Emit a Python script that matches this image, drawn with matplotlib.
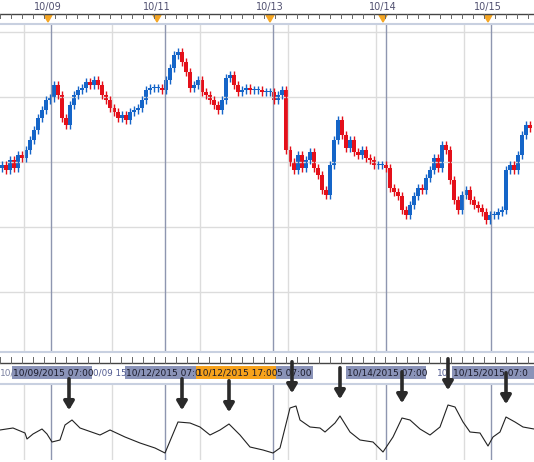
import matplotlib
matplotlib.use("Agg")
import matplotlib.pyplot as plt
from matplotlib.patches import Rectangle, Polygon

# candle closes (screen-height units), one candle per 4px slot
close_y = [165,170,160,168,155,158,150,140,130,118,110,100,98,85,95,118,125,105,95,90,88,82,85,80,85,95,100,108,112,118,115,120,112,110,108,100,90,88,88,88,90,80,68,55,52,62,72,88,85,80,92,95,100,105,110,100,78,75,85,92,90,88,90,90,90,92,92,92,100,95,90,150,162,170,155,168,160,152,168,175,190,195,165,140,120,135,148,140,152,155,150,158,160,165,165,165,168,188,192,196,210,215,205,196,188,190,178,170,158,168,145,150,180,200,210,195,190,200,205,208,212,220,215,215,212,210,170,165,170,155,135,125,128]
prices = [400 - v for v in close_y]

osc_x = [0,13,25,27,33,42,47,52,60,65,72,80,100,110,125,140,155,165,178,190,200,210,220,229,240,250,263,273,280,290,296,300,310,320,325,335,340,350,360,373,383,393,402,410,420,430,440,448,455,463,470,480,488,493,500,506,515,523,534]
osc_v = [430,428,433,439,434,429,434,442,440,425,420,428,435,430,437,443,448,453,422,423,427,435,430,424,435,447,450,453,448,408,406,420,427,428,432,423,416,432,440,442,452,437,418,420,429,435,427,405,407,422,432,433,446,437,432,417,422,427,429]
osc = [500 - v for v in osc_v]

day_lines = [51, 165, 273, 386, 491]
grid_x = [24, 112, 200, 288, 376, 464]
top_labels = ["10/09", "10/11", "10/13", "10/14", "10/15"]
top_label_x = [48, 157, 270, 383, 488]
arrow_x = [69, 182, 229, 292, 340, 402, 448, 506]
arrow_tip = [413, 413, 415, 396, 402, 406, 393, 407]

W, H = 534, 462
fig = plt.figure(figsize=(W/100, H/100), dpi=100)
fig.patch.set_facecolor("white")

def pax(x0, y0, x1, y1, z=1):
    a = fig.add_axes([x0/W, 1 - y1/H, (x1-x0)/W, (y1-y0)/H], zorder=z)
    a.set_xlim(0, W)
    a.set_xticks([]); a.set_yticks([])
    a.patch.set_alpha(0)
    for s in a.spines.values():
        s.set_visible(False)
    return a

main = pax(0, 25, W, 352)
main.set_ylim(400-352, 400-25)
for gx in grid_x:
    main.axvline(gx, color="#dcdcdc", lw=1)
for gy in [32, 97, 162, 227, 292]:
    main.axhline(400-gy, color="#dcdcdc", lw=1)
for dx in day_lines:
    main.axvline(dx, color="#8e96b0", lw=1)
prev = prices[0] - 3
for i, c in enumerate(prices):
    x = 2 + 4*i
    o = prev
    col = "#1565c8" if c >= o else "#e4101a"
    lo, hi = min(o, c), max(o, c)
    main.vlines(x, lo-4, hi+4, color=col, lw=1)
    main.add_patch(Rectangle((x-1.7, lo), 3.4, max(hi-lo, 1.2), color=col, lw=0))
    prev = c

low = pax(0, 385, W, 460)
low.set_ylim(500-460, 500-385)
for gx in grid_x:
    low.axvline(gx, color="#dcdcdc", lw=1)
for dx in day_lines:
    low.axvline(dx, color="#8e96b0", lw=1)
low.plot(osc_x, osc, color="#222222", lw=0.8)

deco = pax(0, 0, W, H, z=10)
deco.set_ylim(H, 0)

deco.plot([0, W], [14, 14], color="#444444", lw=1)
deco.plot([0, W], [24, 24], color="#c8d0e0", lw=1.5)
for t in range(0, W, 11):
    deco.plot([t, t], [14, 18], color="#666666", lw=0.7)
for lx, lab in zip(top_label_x, top_labels):
    deco.text(lx, 7, lab, ha="center", va="center", fontsize=7, color="#505070")
    deco.add_patch(Polygon([[lx-4, 15], [lx+4, 15], [lx, 22]], color="#f5a623"))

deco.plot([0, W], [363, 363], color="#444444", lw=1)
deco.plot([0, W], [384, 384], color="#c8d0e0", lw=1.5)
deco.plot([0, W], [352, 352], color="#c8d0e0", lw=1.5)
for t in range(0, W, 11):
    deco.plot([t, t], [357, 363], color="#666666", lw=0.7)
boxes = [(12, 92, "10/09/2015 07:00", "#8a93b8"),
         (125, 197, "10/12/2015 07:0", "#8a93b8"),
         (196, 276, "10/12/2015 17:00", "#f7a21b"),
         (276, 313, "5 07:00", "#8a93b8"),
         (346, 426, "10/14/2015 07:00", "#8a93b8"),
         (452, 534, "10/15/2015 07:0", "#8a93b8")]
deco.text(0, 373, "10/", fontsize=6.5, va="center", color="#7a80a0")
deco.text(93, 373, "0/09 15", fontsize=6.3, va="center", color="#505a90")
deco.text(437, 373, "10", fontsize=6.5, va="center", color="#505a90")
for x0, x1, txt, col in boxes:
    deco.add_patch(Rectangle((x0, 366), x1-x0, 13, color=col, lw=0))
    deco.text(x0+1, 373, txt, ha="left", va="center", fontsize=6.5, color="#1a1a2a")

for ax_, tip in zip(arrow_x, arrow_tip):
    deco.annotate("", xy=(ax_, tip), xytext=(ax_, tip-37),
                  arrowprops=dict(arrowstyle="-|>,head_width=0.3,head_length=0.5",
                                  color="#2a2a2a", lw=2.6))

fig.savefig("out.png", dpi=100)
